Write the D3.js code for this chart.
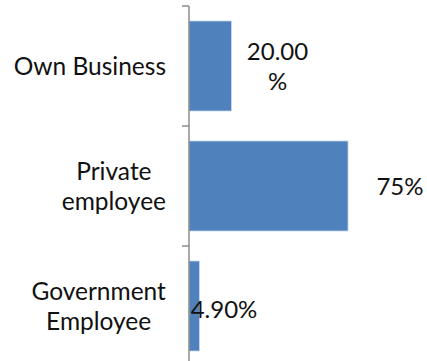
<!DOCTYPE html>
<html>
<head>
<meta charset="utf-8">
<script src="https://cdn.jsdelivr.net/npm/d3@7"></script>
<style>
  html, body { margin: 0; padding: 0; background: #fff; }
  svg { display: block; }
  text { font-family: Lato, "Noto Sans", sans-serif; fill: #111; }
</style>
</head>
<body>
<svg id="chart" width="427" height="361"></svg>
<script>
// Employment type shares
const categories = ["Own Business", "Private employee", "Government Employee"];
const categoryLines = [["Own Business"], ["Private", "employee"], ["Government", "Employee"]];
const shares = [20.0, 75.0, 4.9];
const valueLabelLines = [["20.00", "%"], ["75%"], ["4.90%"]];

const width = 427, height = 361;
const axisX = 189;
const svg = d3.select("#chart");

const x = d3.scaleLinear().domain([0, 100]).range([axisX, axisX + 212]);
const yAxisScale = d3.scaleBand().domain(categories).range([6, 366]).padding(0);
const y = d3.scaleBand().domain(categories).range([6, 366])
  .paddingInner(0.25).paddingOuter(0.125);

// Bars
svg.append("g").selectAll("rect")
  .data(categories)
  .join("rect")
  .attr("x", x(0))
  .attr("y", d => y(d))
  .attr("width", (d, i) => x(shares[i]) - x(0))
  .attr("height", y.bandwidth())
  .attr("fill", "#4F81BD")
  .attr("stroke", "#C6D4E8")
  .attr("stroke-width", 0.8);

// Category axis with ticks between categories
const axisG = svg.append("g");
axisG.append("line")
  .attr("x1", axisX).attr("x2", axisX)
  .attr("y1", yAxisScale.range()[0]).attr("y2", yAxisScale.range()[1])
  .attr("stroke", "#8C8C8C").attr("stroke-width", 1.5);
const tickYs = categories.map(c => yAxisScale(c)).concat([yAxisScale.range()[1]]);
axisG.selectAll("line.tick")
  .data(tickYs)
  .join("line")
  .attr("class", "tick")
  .attr("x1", axisX - 7).attr("x2", axisX)
  .attr("y1", d => d).attr("y2", d => d)
  .attr("stroke", "#8C8C8C").attr("stroke-width", 1.5);

const catFontSize = 24.5;
const valFontSize = 24;
const lineH = 30;

// Category labels: block right-aligned, lines centred within it
categories.forEach((c, i) => {
  const lines = categoryLines[i];
  const g = svg.append("g");
  const cy = yAxisScale(c) + yAxisScale.bandwidth() / 2;
  const t = g.append("text")
    .attr("font-size", catFontSize)
    .attr("text-anchor", "middle");
  lines.forEach((ln, j) => {
    t.append("tspan")
      .attr("x", 0)
      .attr("y", cy + (j - (lines.length - 1) / 2) * lineH)
      .attr("dy", "0.35em")
      .text(ln);
  });
  const bb = t.node().getBBox();
  t.attr("transform", `translate(${166 - bb.width / 2},0)`);
});

// Value labels
const labelCenters = [277.5, 400, 224];
categories.forEach((c, i) => {
  const lines = valueLabelLines[i];
  const cy = y(c) + y.bandwidth() / 2 + (i === 2 ? 4 : 1);
  const t = svg.append("text")
    .attr("font-size", valFontSize)
    .attr("text-anchor", "middle");
  lines.forEach((ln, j) => {
    t.append("tspan")
      .attr("x", labelCenters[i])
      .attr("y", cy + (j - (lines.length - 1) / 2) * lineH)
      .attr("dy", "0.35em")
      .text(ln);
  });
});
</script>
</body>
</html>
